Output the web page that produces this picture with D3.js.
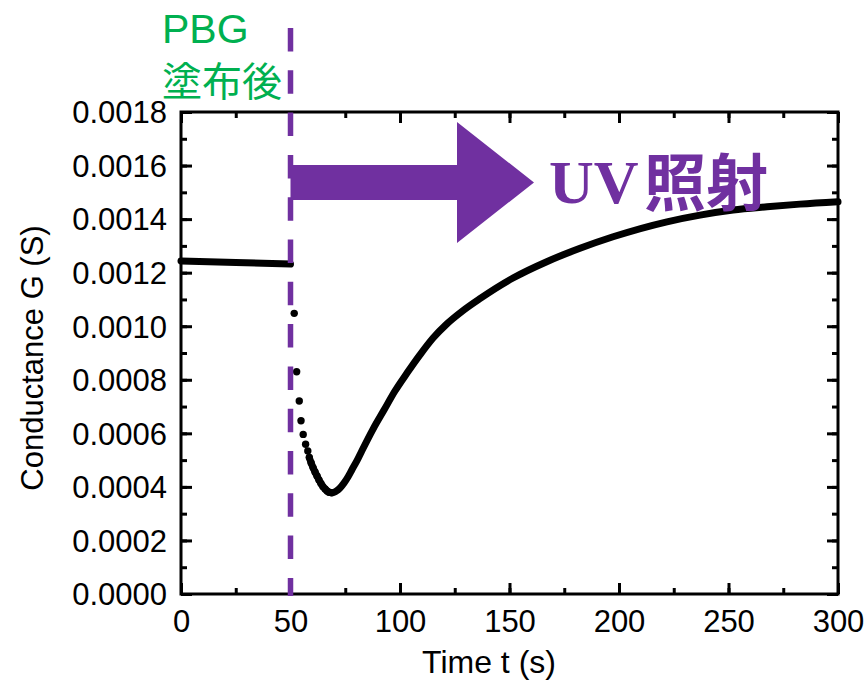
<!DOCTYPE html>
<html>
<head>
<meta charset="utf-8">
<script src="https://cdn.jsdelivr.net/npm/d3@7"></script>
<style>
  html, body { margin: 0; padding: 0; background: #fff; }
  svg { display: block; }
  .tick-label { font-family: "Liberation Sans", Arial, sans-serif; font-size: 31px; fill: #000; }
</style>
</head>
<body>
<svg id="chart" width="868" height="680"></svg>
<script>
"use strict";

// ── Data ─────────────────────────────────────────────────────────────────────
// before UV: dense points that merge into a thick line
const baseT = [0, 25, 50];
const baseG = [0.001244, 0.001238, 0.001232];

// sharp drop after coating: individual dots
const dropT = [51.7, 52.8, 54.0, 54.8, 55.8, 56.9, 57.9, 58.6, 59.4, 60.3, 61.2, 62.1, 63.0, 63.9, 64.8, 65.8, 66.7, 67.6, 68.8];
const dropG = [0.001048, 0.000830, 0.000721, 0.000647, 0.000596, 0.000559, 0.000534, 0.000510, 0.000490,
               0.000472, 0.000456, 0.000441, 0.000426, 0.000413, 0.000401, 0.000392, 0.000385, 0.000380, 0.000378];

// recovery under UV: dense, looks like a thick line
const recT = [58.6, 59.4, 60.3, 61.2, 62.1, 63.0, 63.9, 64.8, 65.8, 66.7, 67.6, 68.8, 69.9, 71.2, 72.6, 74.4, 76.3, 78.1, 80.3,
              82.6, 87.7, 92.7, 97.7, 103.2, 109.1, 115.1, 121.3, 128.7, 136.5, 151.6, 167.0, 182.2, 197.3, 221.9, 237.0,
              252.1, 267.6, 282.6, 300];
const recG = [0.000510, 0.000490, 0.000472, 0.000456, 0.000441, 0.000426, 0.000413, 0.000401, 0.000392, 0.000385, 0.000380, 0.000378,
              0.000380, 0.000386, 0.000396, 0.000414, 0.000438, 0.000465, 0.000497,
              0.000535, 0.000616, 0.000687, 0.000758, 0.000825, 0.000893, 0.000956, 0.001008, 0.001058, 0.001103, 0.001180, 0.001241,
              0.001291, 0.001334, 0.001390, 0.001415, 0.001434, 0.001446, 0.001456, 0.001465];

const xTicks = [0, 50, 100, 150, 200, 250, 300];
const yTicks = [0, 0.0002, 0.0004, 0.0006, 0.0008, 0.0010, 0.0012, 0.0014, 0.0016, 0.0018];

const coatTime = 50;      // PBG coating / UV start
const PURPLE = "#7030A0";
const GREEN = "#00B050";

// ── Layout ───────────────────────────────────────────────────────────────────
const margin = { top: 112, right: 30, bottom: 86, left: 181 };
const totalW = 868, totalH = 680;
const W = totalW - margin.left - margin.right;
const H = totalH - margin.top - margin.bottom;

const svg = d3.select("#chart");
const g = svg.append("g").attr("transform", `translate(${margin.left},${margin.top})`);

const x = d3.scaleLinear().domain([0, 300]).range([0, W]);
const y = d3.scaleLinear().domain([0, 0.0018]).range([H, 0]);

// ── Axes (ticks inward on all four sides) ────────────────────────────────────
const minorX = d3.range(0, 301, 25);
const minorY = d3.range(0, 19).map(i => i * 0.0001);

function styleAxis(sel) {
  sel.select(".domain").remove();
  sel.selectAll(".tick line").attr("stroke", "#000").attr("stroke-width", 3);
}

// minor ticks
g.append("g").call(d3.axisBottom(x).tickValues(minorX).tickSize(-6).tickFormat(""))
  .attr("transform", `translate(0,${H})`).call(styleAxis);
g.append("g").call(d3.axisTop(x).tickValues(minorX).tickSize(-6).tickFormat(""))
  .call(styleAxis);
g.append("g").call(d3.axisLeft(y).tickValues(minorY).tickSize(-6).tickFormat(""))
  .call(styleAxis);
g.append("g").call(d3.axisRight(y).tickValues(minorY).tickSize(-6).tickFormat(""))
  .attr("transform", `translate(${W},0)`).call(styleAxis);

// major ticks with labels
const xAxis = g.append("g").attr("transform", `translate(0,${H})`)
  .call(d3.axisBottom(x).tickValues(xTicks).tickSize(-11).tickPadding(16).tickFormat(d3.format("d")))
  .call(styleAxis);
xAxis.selectAll("text").attr("class", "tick-label").attr("dy", "0.71em");

const yAxis = g.append("g")
  .call(d3.axisLeft(y).tickValues(yTicks).tickSize(-11).tickPadding(14).tickFormat(d3.format(".4f")))
  .call(styleAxis);
yAxis.selectAll("text").attr("class", "tick-label").attr("dy", "0.35em");

g.append("g").call(d3.axisTop(x).tickValues(xTicks).tickSize(-11).tickFormat(""))
  .call(styleAxis);
g.append("g").attr("transform", `translate(${W},0)`)
  .call(d3.axisRight(y).tickValues(yTicks).tickSize(-11).tickFormat(""))
  .call(styleAxis);

// frame
g.append("rect")
  .attr("x", 0).attr("y", 0).attr("width", W).attr("height", H)
  .attr("fill", "none").attr("stroke", "#000").attr("stroke-width", 3);

// axis titles
svg.append("text")
  .attr("x", 489).attr("y", 673)
  .attr("text-anchor", "middle")
  .attr("font-family", "Liberation Sans, Arial, sans-serif").attr("font-size", 32)
  .text("Time t (s)");

svg.append("text")
  .attr("transform", `translate(43,358) rotate(-90)`)
  .attr("text-anchor", "middle")
  .attr("font-family", "Liberation Sans, Arial, sans-serif").attr("font-size", 31)
  .text("Conductance G (S)");

// ── Data marks ───────────────────────────────────────────────────────────────
const line = d3.line().x(d => x(d[0])).y(d => y(d[1])).curve(d3.curveMonotoneX);

g.append("path")
  .datum(baseT.map((t, i) => [t, baseG[i]]))
  .attr("d", line)
  .attr("fill", "none").attr("stroke", "#000").attr("stroke-width", 7)
  .attr("stroke-linecap", "round");

g.append("path")
  .datum(recT.map((t, i) => [t, recG[i]]))
  .attr("d", line)
  .attr("fill", "none").attr("stroke", "#000").attr("stroke-width", 7)
  .attr("stroke-linecap", "round").attr("stroke-linejoin", "round");

g.selectAll(".drop-dot")
  .data(dropT.map((t, i) => [t, dropG[i]]))
  .enter().append("circle")
  .attr("class", "drop-dot")
  .attr("cx", d => x(d[0])).attr("cy", d => y(d[1]))
  .attr("r", 3.7).attr("fill", "#000");

// ── Annotations ──────────────────────────────────────────────────────────────
// dashed marker at coating time
svg.append("line")
  .attr("x1", margin.left + x(coatTime)).attr("x2", margin.left + x(coatTime))
  .attr("y1", 28).attr("y2", margin.top + H + 2)
  .attr("stroke", PURPLE).attr("stroke-width", 5.5)
  .attr("stroke-dasharray", "23.5 18.8");

// big UV arrow
const ax0 = margin.left + x(coatTime), ay = 182.5;
const arrowPts = [
  [ax0, ay - 17.5], [457, ay - 17.5], [457, ay - 60.5], [534, ay],
  [457, ay + 60.5], [457, ay + 17.5], [ax0, ay + 17.5]
];
svg.append("path")
  .attr("d", "M" + arrowPts.map(p => p.join(",")).join("L") + "Z")
  .attr("fill", PURPLE);

svg.append("text")
  .attr("x", 549).attr("y", 203)
  .attr("font-family", "Liberation Serif, 'Times New Roman', serif")
  .attr("font-weight", "bold").attr("font-size", 62)
  .attr("fill", PURPLE)
  .text("UV");

svg.append("text")
  .attr("x", 644).attr("y", 206)
  .attr("font-family", "'Noto Sans CJK JP', sans-serif")
  .attr("font-weight", "bold").attr("font-size", 62)
  .attr("fill", PURPLE)
  .text("照射");

// PBG label
svg.append("text")
  .attr("x", 162).attr("y", 43)
  .attr("font-family", "Liberation Sans, Arial, sans-serif").attr("font-size", 41)
  .attr("fill", GREEN)
  .text("PBG");

svg.append("text")
  .attr("x", 162).attr("y", 96)
  .attr("font-family", "'Noto Sans CJK JP', sans-serif").attr("font-size", 40)
  .attr("fill", GREEN)
  .text("塗布後");
</script>
</body>
</html>
